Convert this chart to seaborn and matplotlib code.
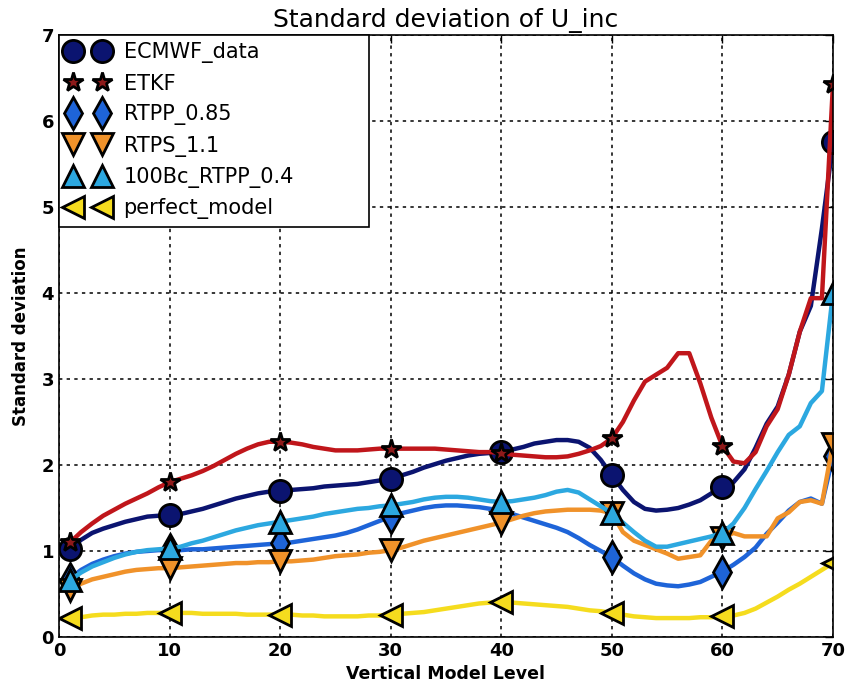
import matplotlib
matplotlib.use("Agg")
import matplotlib.pyplot as plt
from matplotlib.lines import Line2D
import seaborn as sns
import numpy as np

levels = list(range(1, 71))

ecmwf_data = [1.02, 1.13, 1.21, 1.26, 1.30, 1.34, 1.37, 1.40, 1.41, 1.42,
              1.43, 1.46, 1.49, 1.53, 1.57, 1.61, 1.64, 1.67, 1.69, 1.70,
              1.71, 1.72, 1.73, 1.75, 1.76, 1.77, 1.78, 1.80, 1.82, 1.84,
              1.88, 1.92, 1.97, 2.01, 2.05, 2.08, 2.11, 2.13, 2.14, 2.15,
              2.18, 2.21, 2.25, 2.27, 2.29, 2.29, 2.27, 2.20, 2.06, 1.88,
              1.71, 1.57, 1.49, 1.47, 1.48, 1.50, 1.54, 1.59, 1.67, 1.75,
              1.80, 1.95, 2.20, 2.48, 2.68, 3.05, 3.55, 3.85, 4.75, 5.75]

etkf = [1.10, 1.22, 1.32, 1.41, 1.48, 1.55, 1.61, 1.67, 1.74, 1.80,
        1.84, 1.88, 1.93, 1.99, 2.06, 2.13, 2.19, 2.24, 2.27, 2.27,
        2.26, 2.24, 2.21, 2.19, 2.17, 2.17, 2.17, 2.18, 2.19, 2.19,
        2.19, 2.19, 2.19, 2.19, 2.18, 2.17, 2.16, 2.15, 2.15, 2.14,
        2.12, 2.11, 2.10, 2.09, 2.09, 2.10, 2.13, 2.17, 2.22, 2.31,
        2.50, 2.75, 2.97, 3.05, 3.13, 3.30, 3.30, 2.95, 2.55, 2.22,
        2.04, 2.02, 2.15, 2.45, 2.65, 3.05, 3.55, 3.94, 3.94, 6.43]

rtpp_085 = [0.68, 0.78, 0.85, 0.90, 0.94, 0.97, 0.99, 1.00, 1.01, 1.01,
            1.01, 1.02, 1.02, 1.03, 1.04, 1.05, 1.06, 1.07, 1.08, 1.09,
            1.10, 1.12, 1.14, 1.16, 1.18, 1.21, 1.25, 1.30, 1.35, 1.40,
            1.44, 1.47, 1.50, 1.52, 1.53, 1.53, 1.52, 1.51, 1.49, 1.47,
            1.43, 1.39, 1.35, 1.31, 1.27, 1.22, 1.15, 1.07, 1.00, 0.93,
            0.83, 0.74, 0.67, 0.62, 0.60, 0.59, 0.61, 0.64, 0.70, 0.76,
            0.84, 0.93, 1.04, 1.20, 1.33, 1.47, 1.57, 1.61, 1.55, 2.10]

rtps_11 = [0.55, 0.62, 0.67, 0.70, 0.73, 0.76, 0.78, 0.79, 0.80, 0.80,
           0.81, 0.82, 0.83, 0.84, 0.85, 0.86, 0.86, 0.87, 0.87, 0.88,
           0.88, 0.89, 0.90, 0.92, 0.94, 0.95, 0.96, 0.98, 0.99, 1.01,
           1.04, 1.08, 1.12, 1.15, 1.18, 1.21, 1.24, 1.27, 1.30, 1.33,
           1.37, 1.41, 1.44, 1.46, 1.47, 1.48, 1.48, 1.48, 1.47, 1.44,
           1.22, 1.12, 1.07, 1.02, 0.97, 0.91, 0.93, 0.95, 1.12, 1.15,
           1.21, 1.17, 1.17, 1.17, 1.38, 1.45, 1.57, 1.59, 1.55, 2.25]

bc100_rtpp_04 = [0.66, 0.75, 0.82, 0.87, 0.92, 0.96, 0.99, 1.01, 1.02, 1.03,
                 1.05, 1.09, 1.12, 1.16, 1.20, 1.24, 1.27, 1.30, 1.32, 1.34,
                 1.36, 1.38, 1.40, 1.43, 1.45, 1.47, 1.49, 1.50, 1.52, 1.53,
                 1.55, 1.57, 1.60, 1.62, 1.63, 1.63, 1.62, 1.60, 1.58, 1.57,
                 1.58, 1.60, 1.62, 1.65, 1.69, 1.71, 1.68, 1.60, 1.52, 1.44,
                 1.33, 1.22, 1.12, 1.05, 1.05, 1.08, 1.11, 1.14, 1.17, 1.21,
                 1.32, 1.50, 1.72, 1.93, 2.15, 2.35, 2.45, 2.72, 2.86, 4.00]

perfect_model = [0.22, 0.23, 0.25, 0.26, 0.26, 0.27, 0.27, 0.28, 0.28, 0.28,
                 0.28, 0.28, 0.27, 0.27, 0.27, 0.27, 0.26, 0.26, 0.26, 0.26,
                 0.26, 0.25, 0.25, 0.24, 0.24, 0.24, 0.24, 0.25, 0.25, 0.26,
                 0.27, 0.28, 0.29, 0.31, 0.33, 0.35, 0.37, 0.39, 0.40, 0.41,
                 0.40, 0.39, 0.38, 0.37, 0.36, 0.35, 0.33, 0.31, 0.30, 0.28,
                 0.26, 0.24, 0.23, 0.22, 0.22, 0.22, 0.22, 0.23, 0.23, 0.24,
                 0.25, 0.28, 0.33, 0.40, 0.47, 0.55, 0.62, 0.70, 0.78, 0.86]

series_names = ["ECMWF_data", "ETKF", "RTPP_0.85", "RTPS_1.1",
                "100Bc_RTPP_0.4", "perfect_model"]
series_values = [ecmwf_data, etkf, rtpp_085, rtps_11, bc100_rtpp_04, perfect_model]
line_colors = ["#0b1470", "#c0161b", "#1e64d8", "#f0922a", "#2ca8e0", "#f5dc1e"]
marker_faces = ["#0b1470", "#8e1a1a", "#1e64d8", "#f0922a", "#2ca8e0", "#f5dc1e"]
marker_styles = ["o", "*", "d", "v", "^", "<"]
marker_sizes = [16, 15, 16, 16, 16, 16]
marker_levels = [1, 10, 20, 30, 40, 50, 60, 70]

sns.set_style("white")
plt.rcParams["font.family"] = ["DejaVu Sans"]
plt.rcParams["text.color"] = "black"
plt.rcParams["axes.labelcolor"] = "black"
plt.rcParams["xtick.color"] = "black"
plt.rcParams["ytick.color"] = "black"

fig = plt.figure(figsize=(8.46, 6.93), dpi=100)
ax = fig.add_axes([0.0697, 0.0808, 0.9149, 0.8687])

handles = []
for name, vals, lc, mf, ms, sz in zip(series_names, series_values, line_colors,
                                      marker_faces, marker_styles, marker_sizes):
    sns.lineplot(x=levels, y=vals, color=lc, linewidth=3.2, ax=ax,
                 estimator=None, sort=False)
    mx = [lv for lv in marker_levels]
    my = [vals[levels.index(lv)] for lv in marker_levels]
    ax.plot(mx, my, linestyle="none", marker=ms, markersize=sz,
            markerfacecolor=mf, markeredgecolor="black", markeredgewidth=2)
    handles.append(Line2D([0], [0], linestyle="none", marker=ms, markersize=sz,
                          markerfacecolor=mf, markeredgecolor="black",
                          markeredgewidth=2, label=name))

ax.set_xlim(0, 70)
ax.set_ylim(0, 7)
ax.set_xticks(range(0, 71, 10))
ax.set_yticks(range(0, 8))
ax.grid(True, color="black", linestyle=(0, (2.2, 2.8)), linewidth=1.1)
for sp in ax.spines.values():
    sp.set_color("black")
    sp.set_linewidth(1.2)
ax.tick_params(direction="in", length=6, width=1, top=True, right=True,
               labelsize=13, colors="black")
for lbl in ax.get_xticklabels() + ax.get_yticklabels():
    lbl.set_fontweight("bold")

ax.set_title("Standard deviation of U_inc", fontsize=18, pad=6, color="black")
ax.set_xlabel("Vertical Model Level", fontsize=12.5, fontweight="bold", labelpad=4)
ax.set_ylabel("Standard deviation", fontsize=12, fontweight="bold", labelpad=8)

leg = ax.legend(handles=handles, loc="upper left", numpoints=2, fontsize=15,
                frameon=True, fancybox=False,
                bbox_to_anchor=(0.0, 0.0, 310 / 774, 1.0), mode="expand",
                borderaxespad=0.0, borderpad=0.35, handlelength=2.0,
                handletextpad=0.75, labelspacing=0.5)
leg.get_frame().set_edgecolor("black")
leg.get_frame().set_linewidth(1.2)
leg.get_frame().set_alpha(1.0)

fig.savefig("out.png", dpi=100)
